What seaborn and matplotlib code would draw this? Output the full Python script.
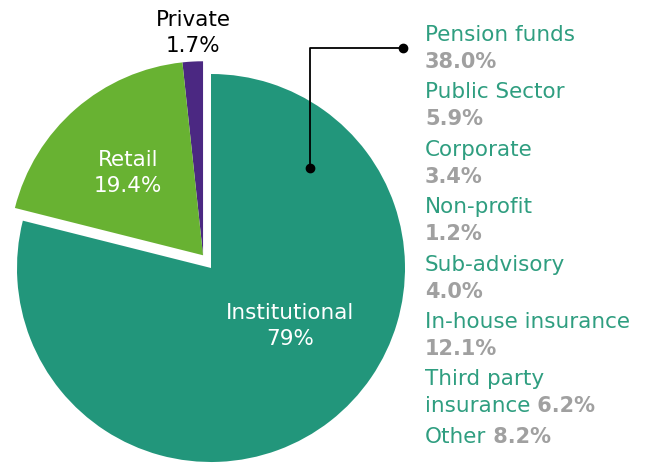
import seaborn as sns
import matplotlib.pyplot as plt
import numpy as np

# main split (pie), counter-clockwise from 12 o'clock
segments = ['Private', 'Retail', 'Institutional']
shares = [1.7, 19.4, 79.0]
share_labels = ['1.7%', '19.4%', '79%']

# institutional breakdown shown as text list on the right
inst_names = ['Pension funds', 'Public Sector', 'Corporate', 'Non-profit',
              'Sub-advisory', 'In-house insurance', 'Third party\ninsurance', 'Other']
inst_values = ['38.0%', '5.9%', '3.4%', '1.2%', '4.0%', '12.1%', '6.2%', '8.2%']
inline_value = [False, False, False, False, False, False, True, True]

seg_colors = ['#4b2882', '#68b232', '#22967b']
seg_text_colors = ['black', 'white', 'white']
teal_text = '#2f9e80'
gray_text = '#a0a0a0'

sns.set_theme(style='white')
plt.rcParams['font.family'] = ['DejaVu Sans']

H = 463
fig = plt.figure(figsize=(6.49, 4.63), dpi=100)
ax = fig.add_axes([0, 0, 1, 1])

cx, cy, r = 211, H - 268, 194
wedges, _ = ax.pie(shares, colors=seg_colors, startangle=90, counterclock=True,
                   center=(cx, cy), radius=r, frame=True,
                   wedgeprops=dict(linewidth=0))
ax.set_xlim(0, 649)
ax.set_ylim(0, H)
ax.set_aspect('equal')
ax.axis('off')

# pull Private + Retail out together as one block
mid = np.deg2rad(122)
off = 15
for w in wedges[:2]:
    w.set_center((cx + off * np.cos(mid), cy + off * np.sin(mid)))

fs = 15.5
fs_val = 15
# label positions: (x centre, baseline of first line) in pixels from top
label_pos = [(193, 26), (128, 166), (290, 319)]
for name, lab, col, (lx, ly) in zip(segments, share_labels, seg_text_colors, label_pos):
    ax.text(lx, H - ly, name, color=col, fontsize=fs, ha='center', va='baseline')
    ax.text(lx, H - ly - 26, lab, color=col, fontsize=fs, ha='center', va='baseline')

# connector from institutional slice to the breakdown list
ax.plot([310, 310, 403], [H - 168, H - 48, H - 48], color='black', lw=1.3)
ax.plot([310, 403], [H - 168, H - 48], 'o', color='black', ms=6)

x0, y0, pitch, gap = 425, H - 41, 57.4, 27
for i, (name, val, inl) in enumerate(zip(inst_names, inst_values, inline_value)):
    y = y0 - i * pitch
    lines = name.split('\n')
    for k, ln in enumerate(lines):
        t = ax.text(x0, y - k * gap, ln, color=teal_text, fontsize=fs,
                    ha='left', va='baseline')
    if inl:
        # value sits at the end of the last name line
        ax.annotate(' ' + val, xy=(1, 0), xycoords=t, color=gray_text, fontsize=fs_val,
                    fontweight='bold', ha='left', va='bottom')
    else:
        ax.text(x0, y - gap, val, color=gray_text, fontsize=fs_val, fontweight='bold',
                ha='left', va='baseline')

fig.savefig('out.png', dpi=100)
